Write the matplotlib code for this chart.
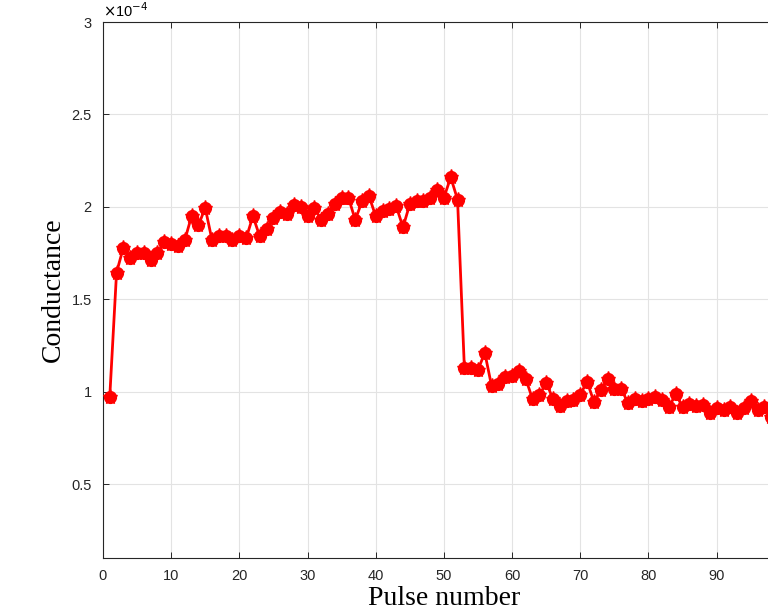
import numpy as np
import matplotlib.pyplot as plt
from matplotlib.ticker import FuncFormatter

# pulse index and conductance (units of 1e-4 S)
pulses = list(range(1, 99))
conductance = [
    0.97, 1.645, 1.78, 1.725, 1.75, 1.75, 1.715, 1.75, 1.81, 1.80,
    1.79, 1.82, 1.95, 1.90, 1.995, 1.82, 1.84, 1.84, 1.82, 1.845,
    1.83, 1.95, 1.84, 1.88, 1.94, 1.97, 1.96, 2.01, 2.00, 1.95,
    1.995, 1.93, 1.96, 2.015, 2.05, 2.05, 1.93, 2.03, 2.06, 1.95,
    1.98, 1.99, 2.005, 1.89, 2.015, 2.03, 2.03, 2.05, 2.09, 2.05,
    2.16, 2.04, 1.13, 1.13, 1.12, 1.21, 1.03, 1.04, 1.08, 1.085,
    1.11, 1.07, 0.96, 0.98, 1.05, 0.96, 0.925, 0.95, 0.955, 0.985,
    1.055, 0.945, 1.01, 1.07, 1.015, 1.015, 0.94, 0.96, 0.95, 0.96,
    0.97, 0.955, 0.915, 0.99, 0.915, 0.935, 0.925, 0.93, 0.885, 0.91,
    0.90, 0.915, 0.885, 0.91, 0.95, 0.90, 0.915, 0.865,
]
g = np.array(conductance) * 1e-4

fig = plt.figure(figsize=(7.68, 6.12), dpi=100)
# axes runs past the right edge, like the cropped original
ax = fig.add_axes([0.134, 0.088, 0.888, 0.876])

ax.plot(pulses, g, color='red', linewidth=2, marker='o', markersize=8.5,
        markerfacecolor='red', markeredgecolor='red', zorder=3)
ax.plot(pulses, g, linestyle='none', marker='*', markersize=11,
        color='red', zorder=3)

ax.set_xlim(0, 100)
ax.set_ylim(0.1e-4, 3e-4)
ax.set_xticks(range(0, 101, 10))
ax.set_xticklabels([str(v) if v < 100 else '' for v in range(0, 101, 10)])
ax.set_yticks(np.arange(0.5, 3.01, 0.5) * 1e-4)
ax.yaxis.set_major_formatter(FuncFormatter(lambda v, p: '%g' % round(v * 1e4, 2)))

for lab in ax.get_xticklabels() + ax.get_yticklabels():
    lab.set_fontfamily('Liberation Sans')
    lab.set_fontsize(10.5)
ax.tick_params(direction='in', top=True, right=True, length=4, width=0.7,
               colors='#262626', pad=8)
ax.grid(True, color='#e3e3e3', linewidth=0.8)
ax.set_axisbelow(True)
for s in ax.spines.values():
    s.set_color('#262626')
    s.set_linewidth(0.8)

ax.text(0.0, 1.003, r'$\times$10$^{-4}$', transform=ax.transAxes,
        fontsize=10.5, family='Liberation Sans', ha='left', va='bottom')

ax.set_xlabel('Pulse number', family='Liberation Serif', fontsize=20, labelpad=2)
ax.set_ylabel('Conductance', family='Liberation Serif', fontsize=20, labelpad=4)

plt.savefig('out.png', dpi=100)
